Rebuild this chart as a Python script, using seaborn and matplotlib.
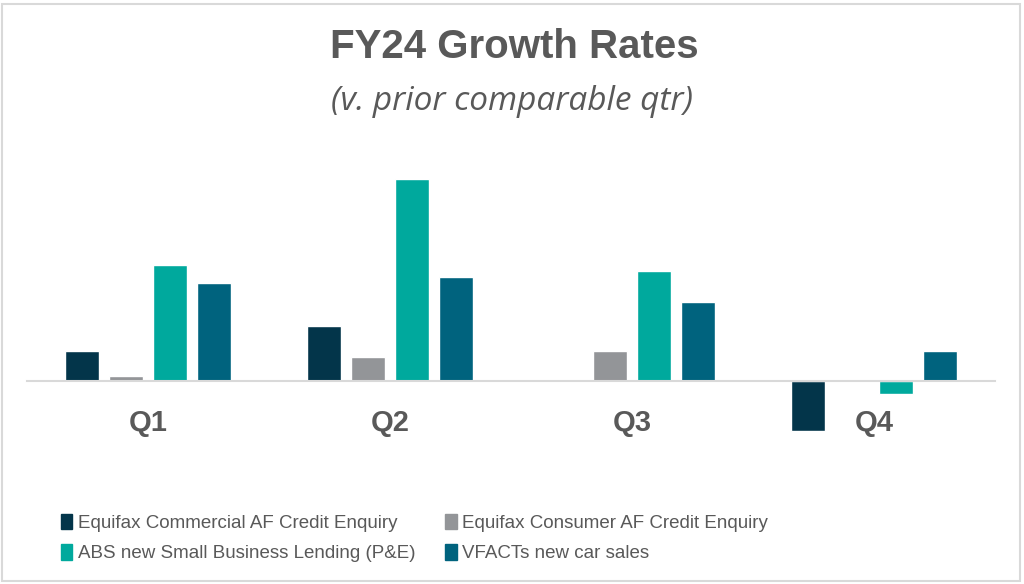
import matplotlib
matplotlib.use('Agg')
import matplotlib.pyplot as plt
import matplotlib.patches as mpatches
import seaborn as sns
import pandas as pd
import numpy as np

# growth rates (no axis shown, units approx)
quarters = ['Q1', 'Q2', 'Q3', 'Q4']
series = ['Equifax Commercial AF Credit Enquiry',
          'Equifax Consumer AF Credit Enquiry',
          'ABS new Small Business Lending (P&E)',
          'VFACTs new car sales']
commercial = [3.0, 5.5, 0.0, -5.0]
consumer = [0.55, 2.4, 3.0, 0.0]
abs_lending = [11.6, 20.2, 11.0, -1.3]
vfacts = [9.8, 10.4, 7.9, 3.0]
colours = ['#03354A', '#939598', '#00A99D', '#00637E']

rows = []
for name, vals in zip(series, [commercial, consumer, abs_lending, vfacts]):
    for q, v in zip(quarters, vals):
        rows.append({'quarter': q, 'series': name, 'growth': v})
df = pd.DataFrame(rows)

sns.set_style('white')
plt.rcParams['font.family'] = ['Liberation Sans', 'DejaVu Sans']
txt = '#595959'

fig = plt.figure(figsize=(10.24, 5.84), dpi=100)
ax = fig.add_axes([27/1024, 144/584, 968/1024, 300/584])

sns.barplot(data=df, x='quarter', y='growth', hue='series', order=quarters,
            hue_order=series, palette=colours, width=0.727, gap=0.23,
            saturation=1, ax=ax, legend=False)

ax.set_xlim(-0.5, 3.5)
ax.set_ylim(-5.9, 24.1)
ax.set_xlabel('')
ax.set_ylabel('')
ax.set_yticks([])
for s in ['top', 'left', 'right']:
    ax.spines[s].set_visible(False)
ax.spines['bottom'].set_position(('data', 0))
ax.spines['bottom'].set_color('#d9d9d9')
ax.spines['bottom'].set_linewidth(1.5)
ax.tick_params(axis='x', length=0, pad=20, labelsize=21, labelcolor=txt)
for lab in ax.get_xticklabels():
    lab.set_fontweight('bold')

# title + subtitle
fig.text(0.502, 1 - 47/584, 'FY24 Growth Rates', ha='center', va='center',
         fontsize=29, fontweight='bold', color=txt)
fig.text(0.5, 1 - 101/584, '(v. prior comparable qtr)', ha='center', va='center',
         fontsize=24, style='italic', color=txt,
         family=['Open Sans', 'Liberation Sans'])

# legend (row-wise order: matplotlib fills columns first)
order = [0, 2, 1, 3]
handles = [mpatches.Patch(color=colours[i], label=series[i]) for i in order]
fig.legend(handles=handles, loc='center left', bbox_to_anchor=(44/1024, 1 - 538/584),
           ncol=2, frameon=False, labelcolor=txt,
           handlelength=0.6, handleheight=0.9, handletextpad=0.3,
           columnspacing=1.6, labelspacing=0.65,
           prop={'family': ['Liberation Sans'], 'size': 13.5})

# outer border
fig.add_artist(mpatches.Rectangle((2/1024, 3/584), 1018/1024, 577/584,
                                  transform=fig.transFigure, fill=False,
                                  edgecolor='#d9d9d9', linewidth=1.5))

plt.savefig('out.png', dpi=100)
